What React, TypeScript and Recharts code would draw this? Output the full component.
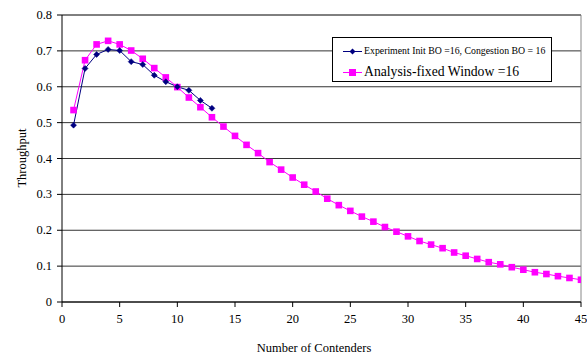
import React from 'react';
import { LineChart, Line, XAxis, YAxis, CartesianGrid, ReferenceLine, Label } from 'recharts';

const experimentX = [1, 2, 3, 4, 5, 6, 7, 8, 9, 10, 11, 12, 13];
const experimentY = [0.493, 0.651, 0.69, 0.704, 0.701, 0.67, 0.662, 0.632, 0.614, 0.6, 0.59, 0.562, 0.54];

const analysisX = [
  1, 2, 3, 4, 5, 6, 7, 8, 9, 10, 11, 12, 13, 14, 15, 16, 17, 18, 19, 20, 21, 22, 23,
  24, 25, 26, 27, 28, 29, 30, 31, 32, 33, 34, 35, 36, 37, 38, 39, 40, 41, 42, 43, 44, 45,
];
const analysisY = [
  0.535, 0.674, 0.718, 0.728, 0.718, 0.701, 0.678, 0.652, 0.626, 0.599, 0.57, 0.543, 0.515,
  0.489, 0.463, 0.438, 0.415, 0.39, 0.369, 0.347, 0.327, 0.308, 0.288, 0.27, 0.254, 0.238,
  0.224, 0.209, 0.196, 0.183, 0.17, 0.16, 0.15, 0.138, 0.129, 0.12, 0.111, 0.105, 0.097,
  0.09, 0.083, 0.078, 0.072, 0.067, 0.062,
];

const xTicks = [0, 5, 10, 15, 20, 25, 30, 35, 40, 45];
const yTicks = [0, 0.1, 0.2, 0.3, 0.4, 0.5, 0.6, 0.7, 0.8];

const experimentName = 'Experiment Init BO =16, Congestion BO = 16';
const analysisName = 'Analysis-fixed Window =16';

const experimentData = experimentX.map((x, i) => ({ x, y: experimentY[i] }));
const analysisData = analysisX.map((x, i) => ({ x, y: analysisY[i] }));

const FONT = '"Liberation Serif", "DejaVu Serif", serif';
const BLUE = '#000080';
const MAGENTA = '#FF00FF';

const Diamond = (props: any) => {
  const { cx, cy, index } = props;
  if (cx == null || cy == null) return <g key={index} />;
  const r = 3;
  return (
    <path
      key={index}
      d={`M${cx},${cy - r}L${cx + r},${cy}L${cx},${cy + r}L${cx - r},${cy}Z`}
      fill={BLUE}
      stroke={BLUE}
      strokeWidth={0.5}
    />
  );
};

const Square = (props: any) => {
  const { cx, cy, index } = props;
  if (cx == null || cy == null) return <g key={index} />;
  const s = 3.3;
  return <rect key={index} x={cx - s} y={cy - s} width={2 * s} height={2 * s} fill={MAGENTA} />;
};

const XTick = (props: any) => {
  const { x, y, payload } = props;
  return (
    <text x={x} y={y + 12} textAnchor="middle" fontSize={12.5} fontFamily={FONT} fill="#000">
      {payload.value}
    </text>
  );
};

const YTick = (props: any) => {
  const { x, y, payload } = props;
  return (
    <text x={x} y={y + 4} textAnchor="end" fontSize={12.5} fontFamily={FONT} fill="#000">
      {payload.value}
    </text>
  );
};

const LegendBox = () => (
  <div
    style={{
      position: 'absolute',
      left: 332,
      top: 37,
      width: 220,
      height: 45,
      border: '1px solid #000',
      background: '#fff',
      fontFamily: FONT,
      boxSizing: 'border-box',
    }}
  >
    <svg width={24} height={43} style={{ position: 'absolute', left: 9, top: 0 }}>
      <line x1={1} y1={13.5} x2={20} y2={13.5} stroke={BLUE} strokeWidth={1} />
      <path d="M10.5,10.5L13.5,13.5L10.5,16.5L7.5,13.5Z" fill={BLUE} />
      <line x1={1} y1={34.5} x2={20} y2={34.5} stroke={MAGENTA} strokeWidth={1} />
      <rect x={7} y={31} width={7} height={7} fill={MAGENTA} />
    </svg>
    <div style={{ position: 'absolute', left: 31, top: 6, fontSize: 9.8, lineHeight: '14px', whiteSpace: 'nowrap' }}>
      {experimentName}
    </div>
    <div style={{ position: 'absolute', left: 31, top: 25, fontSize: 13.7, lineHeight: '18px', whiteSpace: 'nowrap' }}>
      {analysisName}
    </div>
  </div>
);

export default function App() {
  return (
    <div style={{ position: 'absolute', left: 0, top: 0, width: 587, height: 355, background: '#fff' }}>
      <LineChart
        width={587}
        height={355}
        margin={{ top: 15, right: 6, bottom: 23, left: 22 }}
        style={{ fontFamily: FONT }}
      >
        <CartesianGrid vertical={false} horizontal stroke="#333" strokeWidth={1} />
        <ReferenceLine x={45} stroke="#888" strokeWidth={1} />
        <ReferenceLine y={0.8} stroke="#666" strokeWidth={1} />
        <XAxis
          type="number"
          dataKey="x"
          domain={[0, 45]}
          ticks={xTicks}
          interval={0}
          allowDataOverflow
          stroke="#000"
          tickSize={5}
          tickMargin={4}
          tick={XTick}
          tickLine={{ stroke: '#000' }}
        >
          <Label
            content={() => (
              <text x={314} y={352} textAnchor="middle" fontSize={12.5} fontFamily={FONT} fill="#000">
                Number of Contenders
              </text>
            )}
          />
        </XAxis>
        <YAxis
          type="number"
          domain={[0, 0.8]}
          ticks={yTicks}
          interval={0}
          width={40}
          stroke="#000"
          tickSize={5}
          tickMargin={5}
          tick={YTick}
          tickLine={{ stroke: '#000' }}
        >
          <Label
            content={() => (
              <text
                x={0}
                y={0}
                transform="translate(26,158) rotate(-90)"
                textAnchor="middle"
                fontSize={12.5}
                fontFamily={FONT}
                fill="#000"
              >
                Throughput
              </text>
            )}
          />
        </YAxis>
        <Line
          data={analysisData}
          dataKey="y"
          name={analysisName}
          stroke={MAGENTA}
          strokeWidth={1}
          dot={Square}
          activeDot={false}
          isAnimationActive={false}
        />
        <Line
          data={experimentData}
          dataKey="y"
          name={experimentName}
          stroke={BLUE}
          strokeWidth={1}
          dot={Diamond}
          activeDot={false}
          isAnimationActive={false}
        />
      </LineChart>
      <LegendBox />
    </div>
  );
}
